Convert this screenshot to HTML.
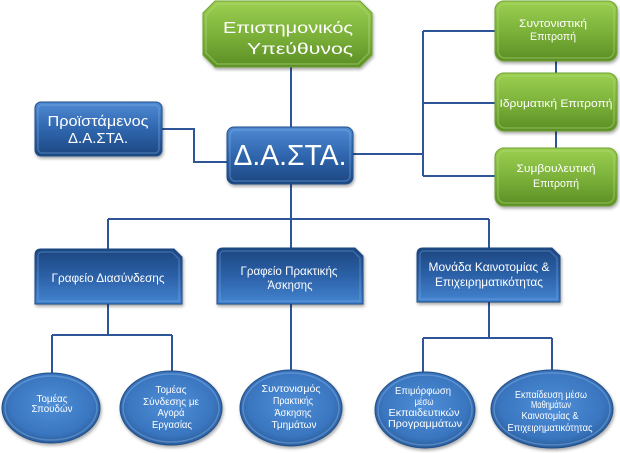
<!DOCTYPE html>
<html><head><meta charset="utf-8">
<style>
html,body{margin:0;padding:0;background:#fff;}
svg{display:block;}
text{font-family:"Liberation Sans","DejaVu Sans",sans-serif;fill:#fff;text-anchor:middle;}
</style></head>
<body>
<svg width="620" height="453" viewBox="0 0 620 453" xmlns="http://www.w3.org/2000/svg">
<defs>
  <linearGradient id="gB" x1="0" y1="0" x2="0" y2="1">
    <stop offset="0" stop-color="#4f8ad2"/>
    <stop offset="0.5" stop-color="#2f66ae"/>
    <stop offset="1" stop-color="#1c4680"/>
  </linearGradient>
  <linearGradient id="gBr" x1="0" y1="0" x2="0" y2="1">
    <stop offset="0" stop-color="#1c4680"/>
    <stop offset="0.5" stop-color="#2c61a8"/>
    <stop offset="1" stop-color="#4384d0"/>
  </linearGradient>
  <linearGradient id="gG" x1="0" y1="0" x2="0" y2="1">
    <stop offset="0" stop-color="#9ccf52"/>
    <stop offset="0.5" stop-color="#7cb23a"/>
    <stop offset="1" stop-color="#5b8e25"/>
  </linearGradient>
  <radialGradient id="gE" cx="0.5" cy="0.45" r="0.6">
    <stop offset="0" stop-color="#4f8fd8"/>
    <stop offset="0.7" stop-color="#3a76c0"/>
    <stop offset="1" stop-color="#25558f"/>
  </radialGradient>
  <filter id="sh" x="-10%" y="-10%" width="120%" height="130%">
    <feDropShadow dx="1" dy="2" stdDeviation="1.5" flood-color="#000" flood-opacity="0.35"/>
  </filter>
</defs>

<!-- connectors -->
<g stroke="#2e5597" stroke-width="2" fill="none">
  <path d="M291 67 V127"/>
  <path d="M162 129 H194 V162 H227"/>
  <path d="M353 154 H423"/>
  <path d="M423 31 V176"/>
  <path d="M423 31 H495 M423 103 H495 M423 176 H495"/>
  <path d="M556 61 V73 M556 131 V148"/>
  <path d="M291 184 V249"/>
  <path d="M108 219 H489"/>
  <path d="M108 219 V249 M489 219 V248"/>
  <path d="M108 304 V335 M52 335 H172 M52 335 V374 M172 335 V371"/>
  <path d="M291 304 V371"/>
  <path d="M489 302 V338 M423 338 H552 M423 338 V373 M552 338 V371"/>
</g>

<!-- top green octagon -->
<path filter="url(#sh)" d="M215 1 H360 L372 13 V55 L360 67 H215 L203 55 V13 Z" fill="url(#gG)" stroke="#6fa332" stroke-width="1"/>
<path d="M217 4 H358 L369 15 V53 L358 64 H217 L206 53 V15 Z" fill="none" stroke="#b6dc7c" stroke-opacity="0.45" stroke-width="1.5"/>
<text x="288" y="33" font-size="16" textLength="130" lengthAdjust="spacingAndGlyphs">Επιστημονικός</text>
<text x="300" y="54" font-size="16" textLength="106" lengthAdjust="spacingAndGlyphs">Υπεύθυνος</text>

<!-- Προϊστάμενος -->
<rect filter="url(#sh)" x="35" y="102" width="127" height="54" rx="6" fill="url(#gB)" stroke="#24508d" stroke-width="1"/>
<rect x="38" y="105" width="121" height="48" rx="4" fill="none" stroke="#8ab6ea" stroke-opacity="0.35" stroke-width="1.5"/>
<text x="98" y="126" font-size="15" textLength="101" lengthAdjust="spacingAndGlyphs">Προϊστάμενος</text>
<text x="98" y="143" font-size="15" textLength="60" lengthAdjust="spacingAndGlyphs">Δ.Α.ΣΤΑ.</text>

<!-- Δ.Α.ΣΤΑ. -->
<rect filter="url(#sh)" x="227" y="127" width="126" height="57" rx="7" fill="url(#gB)" stroke="#24508d" stroke-width="1"/>
<rect x="230" y="130" width="120" height="51" rx="5" fill="none" stroke="#8ab6ea" stroke-opacity="0.35" stroke-width="1.5"/>
<text x="290" y="165" font-size="29" textLength="113" lengthAdjust="spacingAndGlyphs">Δ.Α.ΣΤΑ.</text>

<!-- right green boxes -->
<rect filter="url(#sh)" x="495" y="1" width="122" height="60" rx="9" fill="url(#gG)" stroke="#6fa332"/>
<rect x="498" y="4" width="116" height="54" rx="7" fill="none" stroke="#b6dc7c" stroke-opacity="0.4" stroke-width="1.5"/>
<text x="553" y="27" font-size="11" textLength="68" lengthAdjust="spacingAndGlyphs">Συντονιστική</text>
<text x="553" y="40" font-size="11" textLength="46" lengthAdjust="spacingAndGlyphs">Επιτροπή</text>

<rect filter="url(#sh)" x="495" y="73" width="122" height="58" rx="9" fill="url(#gG)" stroke="#6fa332"/>
<rect x="498" y="76" width="116" height="52" rx="7" fill="none" stroke="#b6dc7c" stroke-opacity="0.4" stroke-width="1.5"/>
<text x="556" y="107" font-size="11" textLength="113" lengthAdjust="spacingAndGlyphs">Ιδρυματική Επιτροπή</text>

<rect filter="url(#sh)" x="495" y="148" width="122" height="58" rx="9" fill="url(#gG)" stroke="#6fa332"/>
<rect x="498" y="151" width="116" height="52" rx="7" fill="none" stroke="#b6dc7c" stroke-opacity="0.4" stroke-width="1.5"/>
<text x="556" y="172" font-size="11" textLength="79" lengthAdjust="spacingAndGlyphs">Συμβουλευτική</text>
<text x="556" y="187" font-size="11" textLength="46" lengthAdjust="spacingAndGlyphs">Επιτροπή</text>

<!-- bottom boxes -->
<path filter="url(#sh)" d="M41 249 H174 L182 257 V304 H35 V255 Q35 249 41 249 Z" fill="url(#gBr)" stroke="#1f4a84"/>
<path d="M42 252 H172 L179 259 V301 H38 V256 Q38 252 42 252 Z" fill="none" stroke="#8ab6ea" stroke-opacity="0.3" stroke-width="1.5"/>
<text x="108" y="282" font-size="12" textLength="113" lengthAdjust="spacingAndGlyphs">Γραφείο Διασύνδεσης</text>

<path filter="url(#sh)" d="M223 248 H355 L363 256 V304 H217 V254 Q217 248 223 248 Z" fill="url(#gBr)" stroke="#1f4a84"/>
<path d="M224 251 H353 L360 258 V301 H220 V255 Q220 251 224 251 Z" fill="none" stroke="#8ab6ea" stroke-opacity="0.3" stroke-width="1.5"/>
<text x="289" y="275" font-size="12" textLength="97" lengthAdjust="spacingAndGlyphs">Γραφείο Πρακτικής</text>
<text x="290" y="289" font-size="12" textLength="45" lengthAdjust="spacingAndGlyphs">Άσκησης</text>

<path filter="url(#sh)" d="M423 248 H552 L560 256 V302 H417 V254 Q417 248 423 248 Z" fill="url(#gBr)" stroke="#1f4a84"/>
<path d="M424 251 H550 L557 258 V299 H420 V255 Q420 251 424 251 Z" fill="none" stroke="#8ab6ea" stroke-opacity="0.3" stroke-width="1.5"/>
<text x="489" y="271" font-size="12" textLength="121" lengthAdjust="spacingAndGlyphs">Μονάδα Καινοτομίας &amp;</text>
<text x="489" y="286" font-size="12" textLength="108" lengthAdjust="spacingAndGlyphs">Επιχειρηματικότητας</text>

<!-- ellipses -->
<g filter="url(#sh)" stroke="#245089" stroke-width="1">
  <ellipse cx="51" cy="408" rx="49" ry="35" fill="url(#gE)"/>
  <ellipse cx="171" cy="408" rx="51" ry="37" fill="url(#gE)"/>
  <ellipse cx="291" cy="408" rx="51" ry="38" fill="url(#gE)"/>
  <ellipse cx="425" cy="410" rx="50" ry="38" fill="url(#gE)"/>
  <ellipse cx="552" cy="409" rx="61" ry="39" fill="url(#gE)"/>
</g>
<g fill="none" stroke="#9cc4f0" stroke-opacity="0.35" stroke-width="1.5">
  <ellipse cx="51" cy="408" rx="46" ry="32"/>
  <ellipse cx="171" cy="408" rx="48" ry="34"/>
  <ellipse cx="291" cy="408" rx="48" ry="35"/>
  <ellipse cx="425" cy="410" rx="47" ry="35"/>
  <ellipse cx="552" cy="409" rx="58" ry="36"/>
</g>

<g font-size="10.5">
  <text x="52" y="402" textLength="31" lengthAdjust="spacingAndGlyphs">Τομέας</text>
  <text x="52" y="412" textLength="41" lengthAdjust="spacingAndGlyphs">Σπουδών</text>

  <text x="171" y="393" textLength="31" lengthAdjust="spacingAndGlyphs">Τομέας</text>
  <text x="171" y="405" textLength="56" lengthAdjust="spacingAndGlyphs">Σύνδεσης με</text>
  <text x="171" y="416" textLength="27" lengthAdjust="spacingAndGlyphs">Αγορά</text>
  <text x="172" y="428" textLength="40" lengthAdjust="spacingAndGlyphs">Εργασίας</text>

  <text x="291" y="392" textLength="59" lengthAdjust="spacingAndGlyphs">Συντονισμός</text>
  <text x="293" y="404" textLength="40" lengthAdjust="spacingAndGlyphs">Πρακτικής</text>
  <text x="293" y="416" textLength="37" lengthAdjust="spacingAndGlyphs">Άσκησης</text>
  <text x="294" y="428" textLength="45" lengthAdjust="spacingAndGlyphs">Τμημάτων</text>

  <text x="423" y="394" textLength="56" lengthAdjust="spacingAndGlyphs">Επιμόρφωση</text>
  <text x="424" y="405" textLength="19" lengthAdjust="spacingAndGlyphs">μέσω</text>
  <text x="424" y="416" textLength="71" lengthAdjust="spacingAndGlyphs">Εκπαιδευτικών</text>
  <text x="425" y="427" textLength="74" lengthAdjust="spacingAndGlyphs">Προγραμμάτων</text>
</g>
<g font-size="10">
  <text x="551" y="398" textLength="72" lengthAdjust="spacingAndGlyphs">Εκπαίδευση μέσω</text>
  <text x="551" y="408" textLength="40" lengthAdjust="spacingAndGlyphs">Μαθημάτων</text>
  <text x="550" y="419" textLength="57" lengthAdjust="spacingAndGlyphs">Καινοτομίας &amp;</text>
  <text x="550" y="431" textLength="85" lengthAdjust="spacingAndGlyphs">Επιχειρηματικότητας</text>
</g>
</svg>
</body></html>
